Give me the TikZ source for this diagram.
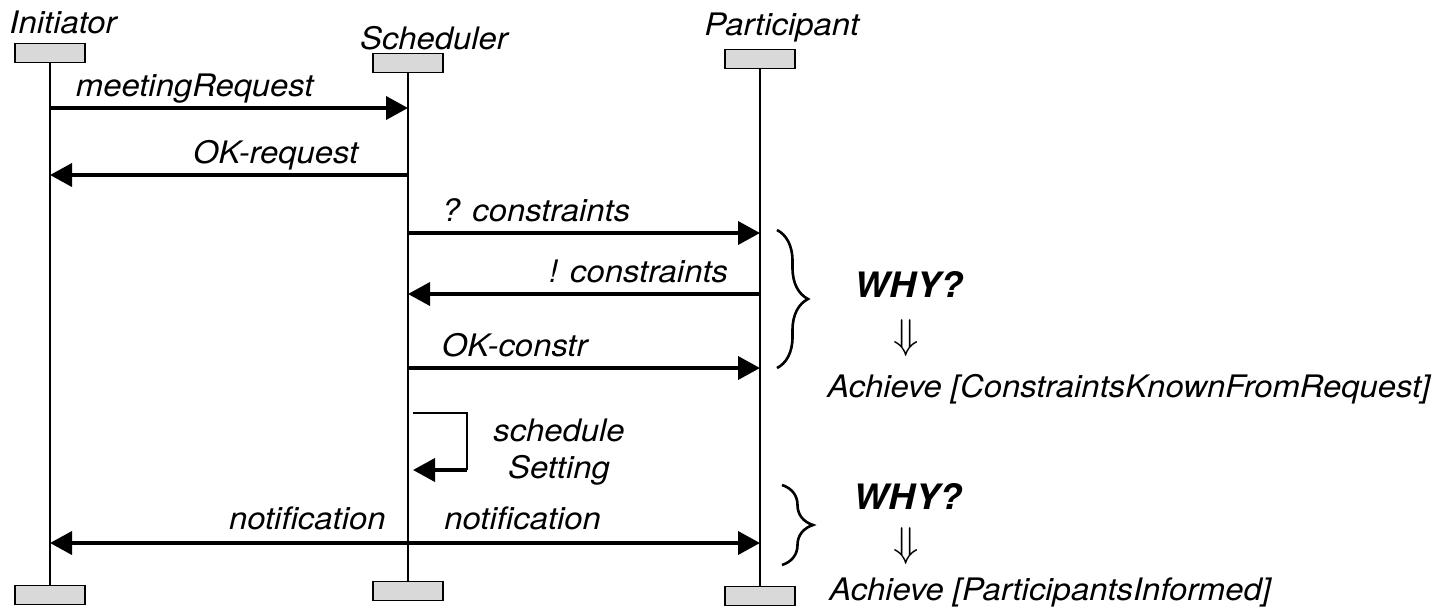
\documentclass[tikz,border=0pt]{standalone}
\usepackage{fontspec}
\setmainfont{TeX Gyre Heros}[FakeStretch=1.06]
\usetikzlibrary{arrows.meta, positioning, decorations.pathreplacing}

\begin{document}
\begin{tikzpicture}[
        x=0.5pt, y=-0.5pt,
        >={Triangle[length=11pt, width=11.5pt]},
        life/.style={line width=0.9pt},
        msg/.style={line width=1.9pt, ->},
        head box/.style={draw, fill=black!15, line width=0.8pt, inner sep=0pt,
          minimum width=35pt, minimum height=9.5pt},
        actor/.style={font=\itshape\fontsize{15.5}{18}\selectfont, inner sep=0pt, anchor=base},
        lbl/.style={font=\itshape\fontsize{15.5}{18.5}\selectfont, inner sep=0pt},
        why/.style={font=\bfseries\itshape\fontsize{17.5}{20}\selectfont, inner sep=0pt},
        goal/.style={font=\itshape\fontsize{15.5}{18}\selectfont, inner sep=0pt, anchor=base west},
        brace/.style={decorate, decoration={brace, amplitude=15.5pt}, line width=1.3pt}
      ]
      \useasboundingbox (0,0) rectangle (1439,606);

      % Lifelines
      \node[head box] (iniTop) at (50,53) {};
      \node[head box] (schTop) at (408,63) {};
      \node[head box] (parTop) at (760,59) {};
      \node[head box] (iniBot) at (50,595) {};
      \node[head box] (schBot) at (408,591) {};
      \node[head box] (parBot) at (760,596) {};
      \node[actor] (iniName) at (63,33) {Initiator};
      \node[actor] (schName) at (434,49) {Scheduler};
      \node[actor] (parName) at (782,35) {Participant};
      \draw[life] (iniTop) -- (iniBot);
      \draw[life] (schTop) -- (schBot);
      \draw[life] (parTop) -- (parBot);

      % Message points on the lifelines
      \foreach \n/\y in {1/108, 2/175, 3/233, 4/294, 5/368, 7/543} {
        \coordinate (i\n) at (50,\y);
        \coordinate (s\n) at (408,\y);
        \coordinate (p\n) at (760,\y);
      }

      % Messages
      \draw[msg] (i1) -- (s1) node[lbl, at start, anchor=base west, xshift=12pt, yshift=6pt] (mMeet) {meetingRequest};
      \draw[msg] (s2) -- (i2) node[lbl, at start, anchor=base east, xshift=-24pt, yshift=6pt] (mOkReq) {OK-request};
      \draw[msg] (s3) -- (p3) node[lbl, at start, anchor=base west, xshift=16pt, yshift=6pt] (mAskC) {? constraints};
      \draw[msg] (p4) -- (s4) node[lbl, at start, anchor=base east, xshift=-15pt, yshift=6pt] (mGiveC) {! constraints};
      \draw[msg] (s5) -- (p5) node[lbl, at start, anchor=base west, xshift=16pt, yshift=6pt] (mOkC) {OK-constr};

      % Self message
      \coordinate (selfA) at (413,413);
      \coordinate (selfB) at (467,470);
      \coordinate (selfC) at (413,470);
      \draw[life] (selfA) -| (selfB);
      \draw[msg] (selfB) -- (selfC);
      \node[lbl, align=center] (mSched) at (559,452) {schedule\\Setting};

      % Notification to both
      \draw[msg, <->] (i7) -- (p7);
      \node[lbl, anchor=base east, xshift=-11pt, yshift=7pt] (mNotI) at (s7) {notification};
      \node[lbl, anchor=base west, xshift=18pt, yshift=7pt] (mNotP) at (s7) {notification};

      % Goals
      \coordinate (b1top) at (777,230);
      \coordinate (b1bot) at (777,368);
      \coordinate (b2top) at (782,485);
      \coordinate (b2bot) at (782,565);
      \draw[brace] (b1top) -- (b1bot);
      \draw[brace] (b2top) -- (b2bot);
      \node[why] (why1) at (909,284) {WHY?};
      \node[font=\fontsize{20}{24}\selectfont, inner sep=0pt] (imp1) at (906,338) {$\Downarrow$};
      \node[goal] (goal1) at (827,397) {Achieve [ConstraintsKnownFromRequest]};
      \node[why] (why2) at (908,496) {WHY?};
      \node[font=\fontsize{20}{24}\selectfont, inner sep=0pt] (imp2) at (906,546) {$\Downarrow$};
      \node[goal] (goal2) at (829,600) {Achieve [ParticipantsInformed]};
    \end{tikzpicture}
\end{document}
